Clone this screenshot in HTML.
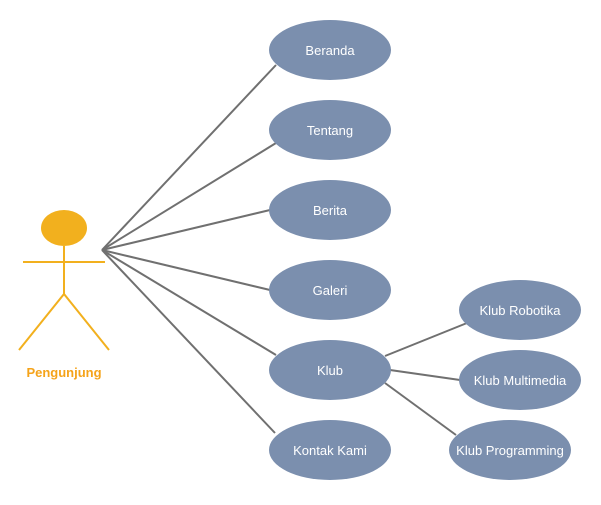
<!DOCTYPE html>
<html><head><meta charset="utf-8"><style>body{margin:0;background:#fff}</style></head><body>
<svg width="601" height="500" xmlns="http://www.w3.org/2000/svg" font-family="Liberation Sans, sans-serif">
<g stroke="#707070" stroke-width="2">
<line x1="102" y1="250" x2="276" y2="65"/>
<line x1="102" y1="250" x2="276" y2="143"/>
<line x1="102" y1="250" x2="270" y2="210"/>
<line x1="102" y1="250" x2="270" y2="290"/>
<line x1="102" y1="250" x2="276" y2="355"/>
<line x1="102" y1="250" x2="275" y2="433"/>
<line x1="385" y1="356" x2="467" y2="323"/>
<line x1="390" y1="370" x2="460" y2="380"/>
<line x1="385" y1="383" x2="456" y2="435"/>
</g>
<g fill="#7b8fae">
<ellipse cx="330" cy="50" rx="61" ry="30"/>
<ellipse cx="330" cy="130" rx="61" ry="30"/>
<ellipse cx="330" cy="210" rx="61" ry="30"/>
<ellipse cx="330" cy="290" rx="61" ry="30"/>
<ellipse cx="330" cy="370" rx="61" ry="30"/>
<ellipse cx="330" cy="450" rx="61" ry="30"/>
<ellipse cx="520" cy="310" rx="61" ry="30"/>
<ellipse cx="520" cy="380" rx="61" ry="30"/>
<ellipse cx="510" cy="450" rx="61" ry="30"/>
</g>
<g fill="#fff" font-size="13" text-anchor="middle">
<text x="330" y="55">Beranda</text>
<text x="330" y="135">Tentang</text>
<text x="330" y="215">Berita</text>
<text x="330" y="295">Galeri</text>
<text x="330" y="375">Klub</text>
<text x="330" y="455">Kontak Kami</text>
<text x="520" y="315">Klub Robotika</text>
<text x="520" y="385">Klub Multimedia</text>
<text x="510" y="455">Klub Programming</text>
</g>
<ellipse cx="64" cy="228" rx="23" ry="18" fill="#f2b01e"/>
<g stroke="#f2b01e" stroke-width="2" fill="none">
<line x1="64" y1="246" x2="64" y2="294"/>
<line x1="23" y1="262" x2="105" y2="262"/>
<polyline points="19,350 64,294 109,350"/>
</g>
<text x="64" y="377" fill="#f5a31a" font-size="13" font-weight="bold" text-anchor="middle">Pengunjung</text>
</svg>
</body></html>
